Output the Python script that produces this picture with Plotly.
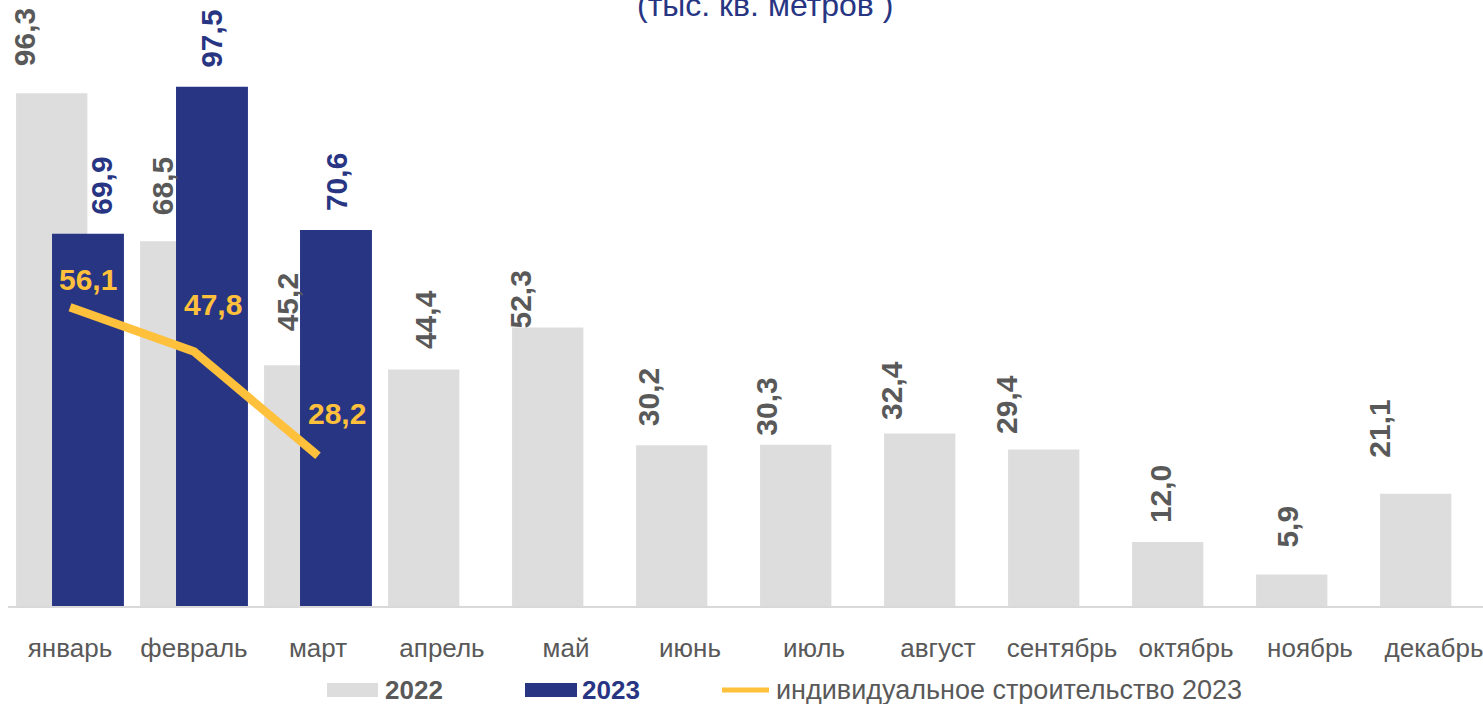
import plotly.graph_objects as go

months = ["январь", "февраль", "март", "апрель", "май", "июнь", "июль",
          "август", "сентябрь", "октябрь", "ноябрь", "декабрь"]
y2022 = [96.3, 68.5, 45.2, 44.4, 52.3, 30.2, 30.3, 32.4, 29.4, 12.0, 5.9, 21.1]
y2023 = [69.9, 97.5, 70.6]
ind2023 = [56.1, 47.8, 28.2]

# label nudges (pixels) as placed in the original
lab22_dx = [-46, -32, -31, -17, -46, -42, -47, -46, -55, -26, -22, -54]
lab22_gap = [25, 24, 32, 18, -3, 17, 7, 11, 13, 17, 25, 34]
lab23_dx = [32, 18, 18]
lab23_gap = [17, 17, 17]
ind_dx = [18, 19, 19]
ind_dy = [28, 47, 42]

GREY = "#DDDDDD"
NAVY = "#283583"
YEL = "#FFC03C"
TXT = "#595959"
FONT = "Liberation Sans, Arial"
W, H = 1483, 704
L, R, T, B = 8, 0, 0, 98
PW, PH = W - L - R, H - T - B
SCALE = 5.325
YMAX = PH / SCALE
CAT = 124.0
XMAX = -0.5 + PW / CAT

def fmt(v):
    return f"{v:.1f}".replace(".", ",")

def px2paper_x(px):
    return (px - L) / PW

def px2paper_y(py):
    return (H - B - py) / PH

xs = list(range(len(months)))

fig = go.Figure()
fig.add_trace(go.Bar(x=xs, y=y2022, name="2022", marker_color=GREY,
                     offset=-0.435, width=0.575, marker_line_width=0))
fig.add_trace(go.Bar(x=xs[:len(y2023)], y=y2023, name="2023", marker_color=NAVY,
                     offset=-0.145, width=0.58, marker_line_width=0))
fig.add_trace(go.Scatter(x=xs[:len(ind2023)], y=ind2023, mode="lines",
                         name="индивидуальное строительство 2023",
                         line=dict(color=YEL, width=8.5)))

ann = []
for i, v in enumerate(y2022):
    ann.append(dict(x=i, y=v, xref="x", yref="y", text=fmt(v), showarrow=False,
                    textangle=-90, xanchor="center", yanchor="bottom",
                    xshift=lab22_dx[i], yshift=lab22_gap[i],
                    font=dict(family=FONT, size=30, color=TXT, weight="bold")))
for i, v in enumerate(y2023):
    ann.append(dict(x=i, y=v, xref="x", yref="y", text=fmt(v), showarrow=False,
                    textangle=-90, xanchor="center", yanchor="bottom",
                    xshift=lab23_dx[i], yshift=lab23_gap[i],
                    font=dict(family=FONT, size=30, color=NAVY, weight="bold")))
for i, v in enumerate(ind2023):
    ann.append(dict(x=i, y=v, xref="x", yref="y", text=fmt(v), showarrow=False,
                    xanchor="center", yanchor="middle",
                    xshift=ind_dx[i], yshift=ind_dy[i],
                    font=dict(family=FONT, size=30, color=YEL, weight="bold")))

# title (partly cut off at top)
ann.append(dict(x=px2paper_x(765), y=1, xref="paper", yref="paper",
                text="(тыс. кв. метров )", showarrow=False, xanchor="center",
                yanchor="top", yshift=15,
                font=dict(family=FONT, size=32, color=NAVY)))

# custom legend
ly = px2paper_y(690)
shapes = [
    dict(type="rect", xref="paper", yref="paper",
         x0=px2paper_x(327), x1=px2paper_x(378),
         y0=px2paper_y(697), y1=px2paper_y(683), fillcolor=GREY, line_width=0),
    dict(type="rect", xref="paper", yref="paper",
         x0=px2paper_x(525), x1=px2paper_x(577),
         y0=px2paper_y(697), y1=px2paper_y(683), fillcolor=NAVY, line_width=0),
    dict(type="line", xref="paper", yref="paper",
         x0=px2paper_x(722), x1=px2paper_x(769), y0=ly, y1=ly,
         line=dict(color=YEL, width=5)),
]
ann += [
    dict(x=px2paper_x(383), y=ly, xref="paper", yref="paper", text="2022",
         showarrow=False, xanchor="left", yanchor="middle",
         font=dict(family=FONT, size=26, color=TXT, weight="bold")),
    dict(x=px2paper_x(580), y=ly, xref="paper", yref="paper", text="2023",
         showarrow=False, xanchor="left", yanchor="middle",
         font=dict(family=FONT, size=26, color=NAVY, weight="bold")),
    dict(x=px2paper_x(774), y=ly, xref="paper", yref="paper",
         text="индивидуальное строительство 2023",
         showarrow=False, xanchor="left", yanchor="middle",
         font=dict(family=FONT, size=27, color=TXT)),
]

fig.update_layout(
    width=W, height=H, margin=dict(l=L, r=R, t=T, b=B, pad=0),
    barmode="overlay", showlegend=False,
    plot_bgcolor="white", paper_bgcolor="white",
    annotations=ann, shapes=shapes,
    font=dict(family=FONT, color=TXT),
)
fig.update_xaxes(range=[-0.5, XMAX], tickmode="array", tickvals=xs, ticktext=months,
                 showgrid=False, zeroline=False, showline=True,
                 linecolor="#D9D9D9", linewidth=2,
                 ticks="outside", ticklen=18, tickcolor="rgba(0,0,0,0)",
                 ticklabeloverflow="allow",
                 tickfont=dict(size=26, color=TXT, family=FONT))
fig.update_yaxes(range=[0, YMAX], visible=False, showgrid=False, zeroline=False)

fig.write_html("out.html", config={"displayModeBar": False},
               post_script="document.body.style.margin='0';document.body.style.overflow='hidden';")
